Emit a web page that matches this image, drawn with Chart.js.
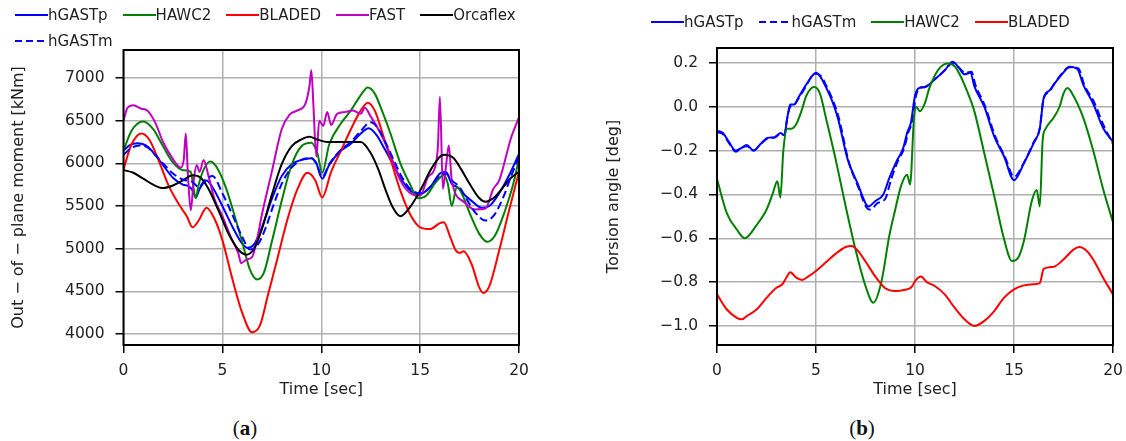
<!DOCTYPE html>
<html>
<head>
<meta charset="utf-8">
<script src="https://cdn.jsdelivr.net/npm/chart.js@4.4.0/dist/chart.umd.min.js"></script>
<style>
  html, body { margin: 0; padding: 0; background: #fff; }
  body { width: 1126px; height: 441px; position: relative; overflow: hidden; font-family: "DejaVu Sans", sans-serif; color: #222; }
  canvas { position: absolute; top: 0; }
  #chartA { left: 0; }
  #chartB { left: 590px; }
  .legend { position: absolute; display: flex; flex-wrap: wrap; font-size: 15px; line-height: 26px; }
  .legend .item { display: flex; align-items: center; margin-right: 15px; white-space: nowrap; }
  .legend svg { display: block; }
  .caption { position: absolute; top: 416px; transform: translateX(-50%); font-family: "Liberation Serif", serif; font-size: 21px; line-height: 24px; color: #111; }
</style>
</head>
<body>
<canvas id="chartA" width="560" height="405"></canvas>
<canvas id="chartB" width="545" height="405"></canvas>
<div class="legend" id="legendA" style="left:15px; top:2px; width:530px;"></div>
<div class="legend" id="legendB" style="left:651px; top:9px; width:470px;"></div>
<div class="caption" style="left:245px;">(<b>a</b>)</div>
<div class="caption" style="left:862px;">(<b>b</b>)</div>

<script>
// ---- data (time [s], value) ----
const timeTicks = [0, 5, 10, 15, 20];
const momentTicks = [4000, 4500, 5000, 5500, 6000, 6500, 7000];
const angleTicks = [-1.0, -0.8, -0.6, -0.4, -0.2, 0, 0.2];

// (a) out-of-plane moment [kNm]
const hGASTpA = [[0,6150],[0.3,6210],[0.7,6235],[1.2,6200],[1.6,6100],[2,5980],[2.5,5830],[3,5750],[3.3,5730],[3.5,5680],[3.65,5600],[3.85,5700],[4.2,5800],[4.5,5720],[5,5500],[5.5,5260],[6,5060],[6.3,5010],[6.6,5050],[7,5250],[7.5,5580],[8,5850],[8.5,5990],[9,6040],[9.5,6060],[9.75,6000],[10.05,5820],[10.4,5980],[11,6150],[11.5,6230],[12,6350],[12.4,6410],[12.8,6330],[13.2,6170],[13.6,6000],[14,5830],[14.5,5680],[15,5640],[15.5,5720],[16,5880],[16.3,5900],[16.6,5760],[16.9,5720],[17.2,5640],[17.6,5560],[18.1,5480],[18.5,5500],[19,5650],[19.5,5860],[20,6110]];
const hGASTmA = [[0,6100],[0.4,6180],[0.8,6210],[1.2,6190],[1.6,6100],[2,6000],[2.5,5880],[3,5810],[3.5,5780],[3.8,5720],[4.1,5800],[4.5,5850],[5,5650],[5.5,5400],[6,5140],[6.4,4990],[6.8,5050],[7.2,5250],[7.6,5520],[8,5760],[8.5,5950],[9,6040],[9.5,6060],[9.75,6000],[10.05,5840],[10.4,5990],[11,6160],[11.5,6250],[12,6380],[12.5,6480],[12.9,6400],[13.3,6220],[13.7,6020],[14.1,5830],[14.5,5700],[15,5650],[15.5,5720],[16,5860],[16.3,5880],[16.6,5800],[17,5720],[17.4,5560],[17.8,5420],[18.3,5330],[18.7,5380],[19.2,5600],[19.6,5850],[20,6080]];
const hawc2A = [[0,6150],[0.4,6380],[1,6490],[1.5,6400],[2,6200],[2.5,6010],[3,5920],[3.4,5900],[3.55,5700],[3.65,5590],[3.8,5750],[4.1,5950],[4.4,6020],[4.8,5920],[5.2,5700],[5.6,5400],[6,5080],[6.4,4750],[6.75,4640],[7.1,4720],[7.5,5080],[8,5560],[8.5,5980],[9,6200],[9.5,6240],[9.8,6120],[10.05,5890],[10.4,6220],[11,6470],[11.5,6620],[12,6800],[12.35,6890],[12.7,6820],[13.1,6600],[13.5,6350],[14,6000],[14.5,5750],[14.9,5590],[15.3,5620],[15.8,5780],[16.2,5860],[16.4,5760],[16.6,5500],[16.85,5720],[17.1,5650],[17.5,5420],[18,5170],[18.4,5080],[18.8,5160],[19.3,5450],[19.7,5750],[20,6050]];
const bladedA = [[0,5930],[0.4,6220],[0.9,6350],[1.3,6280],[1.8,6020],[2.3,5730],[2.8,5520],[3.2,5380],[3.5,5250],[3.8,5330],[4.2,5480],[4.6,5350],[5,5100],[5.5,4650],[6,4250],[6.5,4020],[6.9,4100],[7.3,4450],[7.8,4900],[8.3,5350],[8.8,5700],[9.3,5890],[9.7,5800],[10.05,5600],[10.5,5900],[11,6150],[11.5,6400],[12,6620],[12.35,6710],[12.7,6620],[13.1,6350],[13.5,6050],[14,5680],[14.5,5400],[15,5250],[15.5,5230],[16,5300],[16.2,5310],[16.5,5150],[16.8,4980],[17,4950],[17.2,4970],[17.6,4820],[18,4540],[18.2,4480],[18.5,4560],[19,4980],[19.5,5450],[20,5900]];
const fastA = [[0,6500],[0.2,6650],[0.5,6680],[0.9,6640],[1.2,6620],[1.6,6480],[2,6250],[2.5,6050],[2.9,5950],[3.05,6050],[3.15,6350],[3.25,5900],[3.4,5450],[3.55,5800],[3.7,5980],[3.85,5900],[4.05,6040],[4.3,5850],[4.6,5580],[5,5380],[5.4,5150],[5.8,4950],[5.95,4830],[6.2,4870],[6.5,4900],[6.7,5050],[7,5400],[7.5,5900],[8,6400],[8.4,6570],[8.8,6620],[9.2,6700],[9.4,6900],[9.5,7090],[9.6,6700],[9.75,6080],[9.9,6500],[10.1,6440],[10.3,6600],[10.5,6450],[10.8,6580],[11.2,6600],[11.6,6620],[12,6580],[12.2,6650],[12.5,6550],[13,6350],[13.5,6100],[14,5800],[14.5,5650],[15,5620],[15.4,5840],[15.75,5950],[15.9,6200],[16,6780],[16.15,5700],[16.3,5950],[16.45,6210],[16.6,5800],[17.2,5550],[17.75,5460],[18.3,5470],[18.7,5700],[19,5800],[19.6,6300],[20,6540]];
const orcaflexA = [[0,5920],[0.5,5890],[1,5820],[1.5,5750],[2,5710],[2.5,5740],[3,5800],[3.5,5860],[3.9,5830],[4.3,5700],[4.8,5450],[5.3,5180],[5.8,4990],[6.2,4930],[6.6,5000],[7,5230],[7.5,5630],[8,5990],[8.5,6200],[9,6280],[9.4,6310],[9.8,6280],[10.3,6250],[10.8,6250],[11.3,6250],[12,6250],[12.5,6120],[12.9,5920],[13.25,5690],[13.6,5490],[14,5380],[14.5,5490],[15.05,5700],[15.6,5950],[16.2,6100],[16.7,6060],[17.1,5920],[17.5,5760],[18,5590],[18.3,5550],[18.7,5590],[19.2,5720],[19.6,5830],[20,5900]];

// (b) torsion angle [deg]
const hGASTpB = [[0,-0.11],[0.3,-0.12],[0.6,-0.16],[0.95,-0.2],[1.2,-0.19],[1.5,-0.175],[1.85,-0.2],[2.2,-0.17],[2.55,-0.142],[2.9,-0.14],[3.2,-0.12],[3.4,-0.13],[3.55,-0.05],[3.7,0.01],[3.9,0.01],[4.1,0.04],[4.5,0.1],[4.8,0.14],[5,0.155],[5.2,0.14],[5.5,0.09],[5.8,0.03],[6.1,-0.05],[6.6,-0.24],[7.1,-0.35],[7.5,-0.44],[7.65,-0.455],[8,-0.43],[8.4,-0.4],[8.7,-0.326],[9.1,-0.243],[9.4,-0.19],[9.6,-0.12],[9.8,-0.07],[10,0.05],[10.2,0.085],[10.5,0.09],[11,0.125],[11.5,0.166],[11.9,0.205],[12.2,0.18],[12.5,0.148],[12.8,0.155],[13,0.093],[13.5,0],[14,-0.135],[14.5,-0.227],[15,-0.335],[15.5,-0.258],[16,-0.165],[16.3,-0.1],[16.5,0.04],[16.8,0.075],[17,0.1],[17.5,0.157],[17.8,0.183],[18.2,0.172],[18.5,0.1],[19,0.014],[19.5,-0.097],[20,-0.16]];
const hGASTmB = [[0,-0.115],[0.3,-0.125],[0.6,-0.165],[0.95,-0.205],[1.2,-0.19],[1.5,-0.18],[1.85,-0.2],[2.2,-0.17],[2.55,-0.145],[2.9,-0.14],[3.2,-0.125],[3.4,-0.13],[3.55,-0.05],[3.7,0],[3.9,0.01],[4.1,0.035],[4.5,0.095],[4.8,0.14],[5,0.15],[5.25,0.14],[5.55,0.09],[5.85,0.03],[6.15,-0.05],[6.65,-0.25],[7.15,-0.37],[7.55,-0.46],[7.75,-0.47],[8.1,-0.44],[8.5,-0.42],[8.8,-0.33],[9.15,-0.245],[9.45,-0.19],[9.65,-0.12],[9.85,-0.07],[10.05,0.05],[10.25,0.085],[10.5,0.09],[11,0.125],[11.5,0.166],[11.9,0.2],[12.2,0.18],[12.55,0.155],[12.85,0.16],[13.05,0.1],[13.55,0],[14.05,-0.135],[14.55,-0.23],[15,-0.32],[15.5,-0.255],[16,-0.16],[16.3,-0.1],[16.5,0.04],[16.8,0.07],[17,0.1],[17.5,0.16],[17.8,0.18],[18.25,0.175],[18.55,0.1],[19.05,0.02],[19.55,-0.09],[20,-0.17]];
const hawc2B = [[0,-0.33],[0.5,-0.486],[1,-0.56],[1.4,-0.6],[2,-0.54],[2.5,-0.47],[2.8,-0.4],[3.05,-0.34],[3.2,-0.415],[3.35,-0.2],[3.55,-0.1],[3.75,-0.1],[4,-0.08],[4.3,-0.01],[4.5,0.048],[4.9,0.09],[5.2,0.06],[5.5,-0.05],[6,-0.243],[6.5,-0.455],[7,-0.653],[7.5,-0.818],[7.9,-0.894],[8.3,-0.8],[8.7,-0.59],[9,-0.47],[9.3,-0.36],[9.6,-0.31],[9.75,-0.355],[9.95,-0.05],[10.05,0],[10.25,-0.02],[10.5,0.017],[10.7,0.078],[10.9,0.124],[11.25,0.177],[11.65,0.197],[12,0.185],[12.26,0.147],[12.6,0.078],[12.97,-0.012],[13.5,-0.212],[14,-0.407],[14.5,-0.605],[14.9,-0.704],[15.2,-0.69],[15.5,-0.612],[15.9,-0.43],[16.15,-0.38],[16.3,-0.455],[16.45,-0.15],[16.6,-0.1],[17,-0.05],[17.3,0],[17.5,0.06],[17.7,0.085],[18,0.05],[18.5,-0.051],[19,-0.2],[19.5,-0.375],[20,-0.527]];
const bladedB = [[0,-0.856],[0.5,-0.925],[1,-0.963],[1.25,-0.97],[1.5,-0.955],[2,-0.925],[2.5,-0.872],[3,-0.826],[3.3,-0.81],[3.5,-0.78],[3.7,-0.755],[4,-0.78],[4.3,-0.79],[4.6,-0.775],[5,-0.749],[5.5,-0.71],[6,-0.67],[6.5,-0.64],[6.8,-0.635],[7.1,-0.655],[7.5,-0.706],[8,-0.775],[8.5,-0.828],[9,-0.841],[9.5,-0.835],[9.8,-0.825],[10.05,-0.79],[10.3,-0.775],[10.6,-0.8],[11,-0.818],[11.5,-0.856],[12,-0.917],[12.5,-0.97],[13,-1.0],[13.5,-0.977],[14,-0.932],[14.5,-0.871],[15,-0.833],[15.5,-0.815],[16,-0.81],[16.3,-0.805],[16.5,-0.74],[17,-0.73],[17.5,-0.697],[18,-0.652],[18.3,-0.64],[18.7,-0.66],[19,-0.697],[19.5,-0.78],[20,-0.856]];

const BLUE = '#0000ff', GREEN = '#008000', RED = '#ff0000', MAGENTA = '#c000c0', BLACK = '#000000';
const DASH = [8, 4];

const seriesA = [
  { label: 'hGASTp', data: hGASTpA, color: BLUE },
  { label: 'HAWC2', data: hawc2A, color: GREEN },
  { label: 'BLADED', data: bladedA, color: RED },
  { label: 'FAST', data: fastA, color: MAGENTA },
  { label: 'Orcaflex', data: orcaflexA, color: BLACK },
  { label: 'hGASTm', data: hGASTmA, color: BLUE, dash: true }
];
const seriesB = [
  { label: 'hGASTp', data: hGASTpB, color: BLUE },
  { label: 'hGASTm', data: hGASTmB, color: BLUE, dash: true },
  { label: 'HAWC2', data: hawc2B, color: GREEN },
  { label: 'BLADED', data: bladedB, color: RED }
];

// black frame around the plot area (matplotlib spines)
const framePlugin = {
  id: 'frame',
  afterDraw(chart) {
    const { ctx, chartArea: a } = chart;
    ctx.save();
    ctx.strokeStyle = '#000';
    ctx.lineWidth = 2;
    ctx.strokeRect(a.left, a.top, a.right - a.left, a.bottom - a.top);
    ctx.restore();
  }
};

function toDatasets(series) {
  return series.map((s, i) => ({
    label: s.label,
    data: s.data.map(([x, y]) => ({ x, y })),
    borderColor: s.color,
    backgroundColor: s.color,
    borderWidth: 2,
    borderDash: s.dash ? DASH : [],
    pointRadius: 0,
    cubicInterpolationMode: 'monotone',
    fill: false,
    order: series.length - i
  }));
}

function makeOptions(cfg) {
  const tickFont = { family: 'DejaVu Sans', size: 15.5 };
  const titleFont = { family: 'DejaVu Sans', size: 16 };
  const grid = { color: '#b0b0b0', lineWidth: 1.5, tickColor: '#000', tickLength: 8, tickWidth: 1.5 };
  return {
    responsive: false,
    animation: false,
    devicePixelRatio: 1,
    layout: { padding: cfg.padding },
    plugins: { legend: { display: false }, tooltip: { enabled: false } },
    scales: {
      x: {
        type: 'linear', min: 0, max: 20,
        afterBuildTicks: s => { s.ticks = timeTicks.map(v => ({ value: v })); },
        afterFit: s => { s.height = 60; },
        ticks: { color: '#222', font: tickFont, padding: 9, maxRotation: 0 },
        grid: grid,
        border: { display: false },
        title: { display: true, text: 'Time [sec]', color: '#222', font: titleFont, padding: { top: 0, bottom: 6 } }
      },
      y: {
        type: 'linear', min: cfg.yMin, max: cfg.yMax,
        afterBuildTicks: s => { s.ticks = cfg.yTicks.map(v => ({ value: v })); },
        afterFit: s => { s.width = cfg.yWidth; },
        ticks: { color: '#222', font: tickFont, padding: 11, callback: cfg.fmt },
        grid: grid,
        border: { display: false },
        title: { display: true, text: cfg.yTitle, color: '#222', font: titleFont, padding: { top: cfg.titlePad, bottom: 0 } }
      }
    }
  };
}

function buildLegend(el, series) {
  series.forEach(s => {
    const item = document.createElement('span');
    item.className = 'item';
    item.innerHTML = `<svg width="33" height="4"><line x1="0" y1="2" x2="33" y2="2" stroke="${s.color}" stroke-width="2"${s.dash ? ' stroke-dasharray="7 4"' : ''}/></svg><span>${s.label}</span>`;
    el.appendChild(item);
  });
}

buildLegend(document.getElementById('legendA'), seriesA);
buildLegend(document.getElementById('legendB'), seriesB);

new Chart(document.getElementById('chartA').getContext('2d'), {
  type: 'line',
  data: { datasets: toDatasets(seriesA) },
  options: makeOptions({
    padding: { top: 50, left: 0, right: 41, bottom: 0 },
    yMin: 3871, yMax: 7328, yTicks: momentTicks, yWidth: 123.5, titlePad: 9,
    yTitle: 'Out \u2212 of \u2212 plane moment [kNm]',
    fmt: v => String(v)
  }),
  plugins: [framePlugin]
});

new Chart(document.getElementById('chartB').getContext('2d'), {
  type: 'line',
  data: { datasets: toDatasets(seriesB) },
  options: makeOptions({
    padding: { top: 48, left: 0, right: 22, bottom: 0 },
    yMin: -1.087, yMax: 0.268, yTicks: angleTicks, yWidth: 127, titlePad: 14,
    yTitle: 'Torsion angle [deg]',
    fmt: v => v.toFixed(1).replace('-', '\u2212')
  }),
  plugins: [framePlugin]
});
</script>
</body>
</html>
